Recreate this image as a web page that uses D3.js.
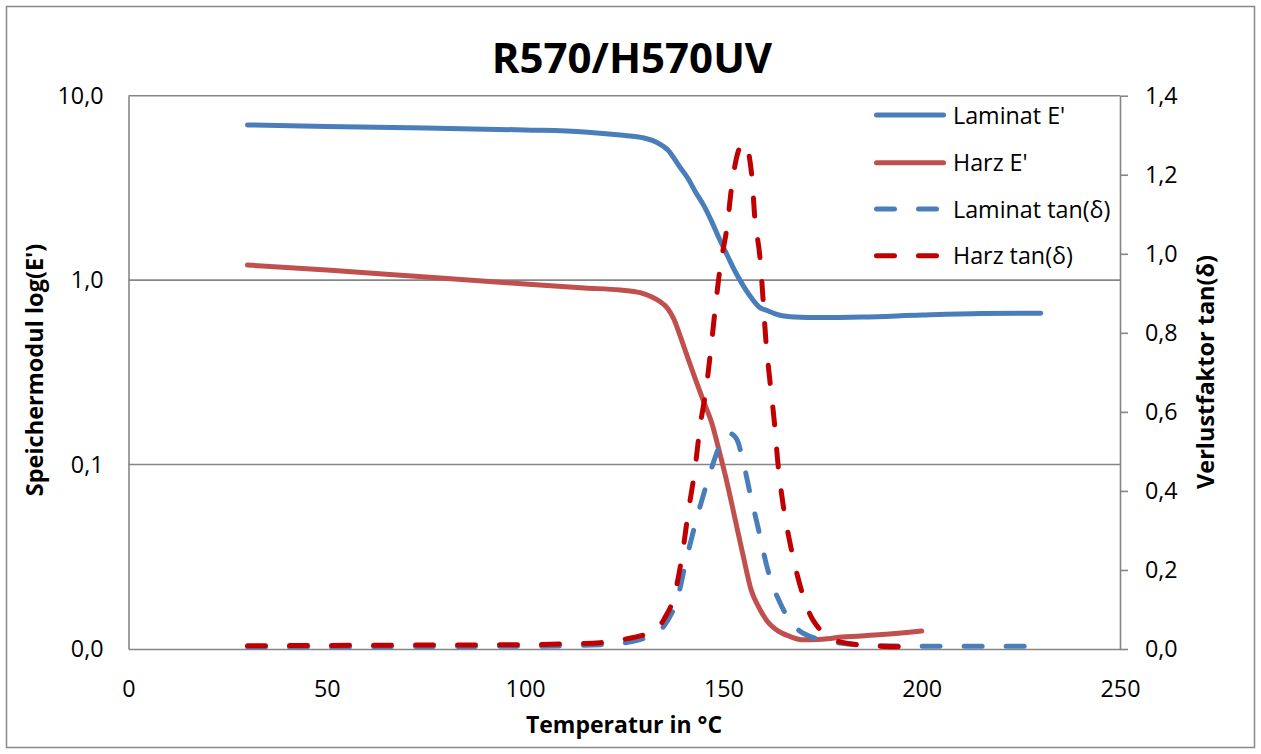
<!DOCTYPE html>
<html>
<head>
<meta charset="utf-8">
<script src="https://cdn.jsdelivr.net/npm/d3@7"></script>
<style>
  html, body { margin: 0; padding: 0; background: #fff; }
  svg { display: block; font-family: "Open Sans", "DejaVu Sans", sans-serif; }
</style>
</head>
<body>
<svg id="chart" width="1261" height="754"></svg>
<script>
// DMA measurement R570/H570UV: storage modulus (log) and loss factor over temperature

// Laminat E' (storage modulus, left log axis)
const lamE_T = [30, 50, 75, 100, 115, 124, 130, 133, 136, 139, 141, 143, 145, 147, 149, 151, 153, 155, 157, 159, 161, 164, 168, 174, 185, 200, 215, 230];
const lamE_V = [6.94, 6.81, 6.68, 6.52, 6.36, 6.12, 5.90, 5.61, 5.08, 4.11, 3.58, 3.00, 2.55, 2.09, 1.67, 1.36, 1.11, 0.934, 0.804, 0.715, 0.684, 0.647, 0.631, 0.627, 0.631, 0.647, 0.659, 0.662];

// Harz E' (storage modulus, left log axis)
const harzE_T = [30, 50, 75, 100, 115, 124, 129, 132, 134, 136, 137.5, 139, 141, 143, 145, 147, 149, 151, 153, 155, 157, 159, 161, 164, 167, 170, 175, 180, 190, 200];
const harzE_V = [1.207, 1.134, 1.039, 0.953, 0.906, 0.884, 0.855, 0.810, 0.765, 0.700, 0.615, 0.505, 0.380, 0.288, 0.220, 0.170, 0.117, 0.0784, 0.0500, 0.0319, 0.0209, 0.0167, 0.0142, 0.01245, 0.01165, 0.01122, 0.01131, 0.0116, 0.01197, 0.01251];

// Laminat tan(δ) (loss factor, right axis)
const lamTan_T = [30, 60, 100, 110, 119, 124, 129, 133.3, 135.8, 138.3, 140.8, 143.3, 146.1, 148.6, 149.9, 151.7, 153.4, 154.9, 156.7, 158.7, 161.2, 164.8, 170.1, 179.4, 189.5, 210, 229];
const lamTan_V = [0.006, 0.006, 0.007, 0.008, 0.011, 0.014, 0.024, 0.040, 0.070, 0.124, 0.233, 0.331, 0.428, 0.504, 0.536, 0.545, 0.530, 0.478, 0.395, 0.309, 0.200, 0.106, 0.040, 0.015, 0.008, 0.007, 0.007];

// Harz tan(δ) (loss factor, right axis)
const harzTan_T = [30, 50, 75, 100, 110, 119, 124, 129, 133, 135, 137.8, 139.8, 141.1, 142.8, 144.1, 145.6, 146.9, 148.1, 149.2, 150.9, 152.2, 154.2, 155.4, 157.2, 157.9, 159.2, 160, 160.7, 161.7, 162.8, 163.8, 165, 166.8, 169.3, 172.6, 179.4, 187.7, 197.8, 200];
const harzTan_V = [0.008, 0.009, 0.010, 0.011, 0.013, 0.016, 0.023, 0.033, 0.048, 0.075, 0.142, 0.250, 0.344, 0.453, 0.562, 0.655, 0.764, 0.876, 0.967, 1.067, 1.179, 1.270, 1.280, 1.194, 1.093, 0.992, 0.885, 0.782, 0.681, 0.579, 0.465, 0.369, 0.268, 0.162, 0.073, 0.018, 0.008, 0.005, 0.005];

// Axis ticks
const xTicks = [0, 50, 100, 150, 200, 250];
const yLeftTicks = [0.01, 0.1, 1, 10];
const yRightTicks = [0, 0.2, 0.4, 0.6, 0.8, 1.0, 1.2, 1.4];

const seriesNames = ["Laminat E'", "Harz E'", "Laminat tan(δ)", "Harz tan(δ)"];

const svg = d3.select("#chart");
const W = 1261, H = 754;
const plot = { left: 128.5, right: 1120, top: 95.7, bottom: 649 };
const axisColor = "#868686";
const comma = v => d3.format(".1f")(v).replace(".", ",");

const x = d3.scaleLinear().domain([0, 250]).range([plot.left, plot.right]);
const yL = d3.scaleLog().domain([0.01, 10]).range([plot.bottom, plot.top]);
const yR = d3.scaleLinear().domain([0, 1.4]).range([plot.bottom, plot.top]);

// Outer chart frame
svg.append("rect")
  .attr("x", 6.5).attr("y", 6.5).attr("width", W - 13).attr("height", H - 13)
  .attr("fill", "#fff").attr("stroke", "#898989").attr("stroke-width", 1.5);

// Horizontal gridlines (log decades)
svg.append("g").selectAll("line")
  .data(yLeftTicks.filter(d => d > 0.01))
  .join("line")
  .attr("x1", plot.left).attr("x2", plot.right)
  .attr("y1", d => yL(d)).attr("y2", d => yL(d))
  .attr("stroke", axisColor).attr("stroke-width", 1.6);

// Left axis
const gL = svg.append("g").attr("transform", `translate(${plot.left},0)`)
  .call(d3.axisLeft(yL).tickValues(yLeftTicks).tickFormat(comma).tickSize(0).tickPadding(25));
// Right axis
const gR = svg.append("g").attr("transform", `translate(${plot.right},0)`)
  .call(d3.axisRight(yR).tickValues(yRightTicks).tickFormat(comma).tickSizeInner(8).tickSizeOuter(0).tickPadding(17));
// Bottom axis
const gB = svg.append("g").attr("transform", `translate(0,${plot.bottom})`)
  .call(d3.axisBottom(x).tickValues(xTicks).tickFormat(d3.format("d")).tickSize(0).tickPadding(31));

[gL, gR, gB].forEach(g => {
  g.select(".domain").attr("stroke", axisColor).attr("stroke-width", 1.6);
  g.selectAll(".tick line").attr("stroke", axisColor).attr("stroke-width", 1.6);
  g.selectAll(".tick text").attr("fill", "#000").style("font-size", "23.3px")
    .style("font-family", "'Open Sans', sans-serif");
});

// Series
const mkData = (T, V) => T.map((t, i) => ({ t, v: V[i] }));
const lineL = d3.line().x(d => x(d.t)).y(d => yL(d.v)).curve(d3.curveMonotoneX);
const lineR = d3.line().x(d => x(d.t)).y(d => yR(d.v)).curve(d3.curveMonotoneX);

const series = [
  { name: seriesNames[0], data: mkData(lamE_T, lamE_V), gen: lineL, color: "#4a7ebb", dash: null },
  { name: seriesNames[1], data: mkData(harzE_T, harzE_V), gen: lineL, color: "#c0504d", dash: null },
  { name: seriesNames[2], data: mkData(lamTan_T, lamTan_V), gen: lineR, color: "#4a7ebb", dash: "18 24" },
  { name: seriesNames[3], data: mkData(harzTan_T, harzTan_V), gen: lineR, color: "#c00000", dash: "18 24" }
];

svg.append("g").selectAll("path")
  .data(series)
  .join("path")
  .attr("d", s => s.gen(s.data))
  .attr("fill", "none")
  .attr("stroke", s => s.color)
  .attr("stroke-width", 5)
  .attr("stroke-linecap", "round")
  .attr("stroke-linejoin", "round")
  .attr("stroke-dasharray", s => s.dash);

// Title
svg.append("text")
  .attr("x", 632).attr("y", 73)
  .attr("text-anchor", "middle")
  .style("font-size", "42px").style("font-weight", "bold")
  .text("R570/H570UV");

// Axis titles
svg.append("text")
  .attr("x", 624).attr("y", 733)
  .attr("text-anchor", "middle")
  .style("font-size", "23px").style("font-weight", "bold")
  .text("Temperatur in °C");

svg.append("text")
  .attr("transform", "translate(43,370) rotate(-90)")
  .attr("text-anchor", "middle")
  .style("font-size", "23.5px").style("font-weight", "bold")
  .text("Speichermodul log(E')");

svg.append("text")
  .attr("transform", "translate(1214,372) rotate(-90)")
  .attr("text-anchor", "middle")
  .style("font-size", "23.5px").style("font-weight", "bold")
  .text("Verlustfaktor tan(δ)");

// Legend
const legendY = [115, 162.7, 209, 255.7];
const lg = svg.append("g").selectAll("g")
  .data(series)
  .join("g")
  .attr("transform", (s, i) => `translate(0,${legendY[i]})`);
lg.append("line")
  .attr("x1", 876.5).attr("x2", 943.5)
  .attr("stroke", s => s.color).attr("stroke-width", 5)
  .attr("stroke-linecap", "round")
  .attr("stroke-dasharray", s => s.dash);
lg.append("text")
  .attr("x", 953).attr("y", 8.5)
  .style("font-size", "23.3px")
  .text(s => s.name);
</script>
</body>
</html>
